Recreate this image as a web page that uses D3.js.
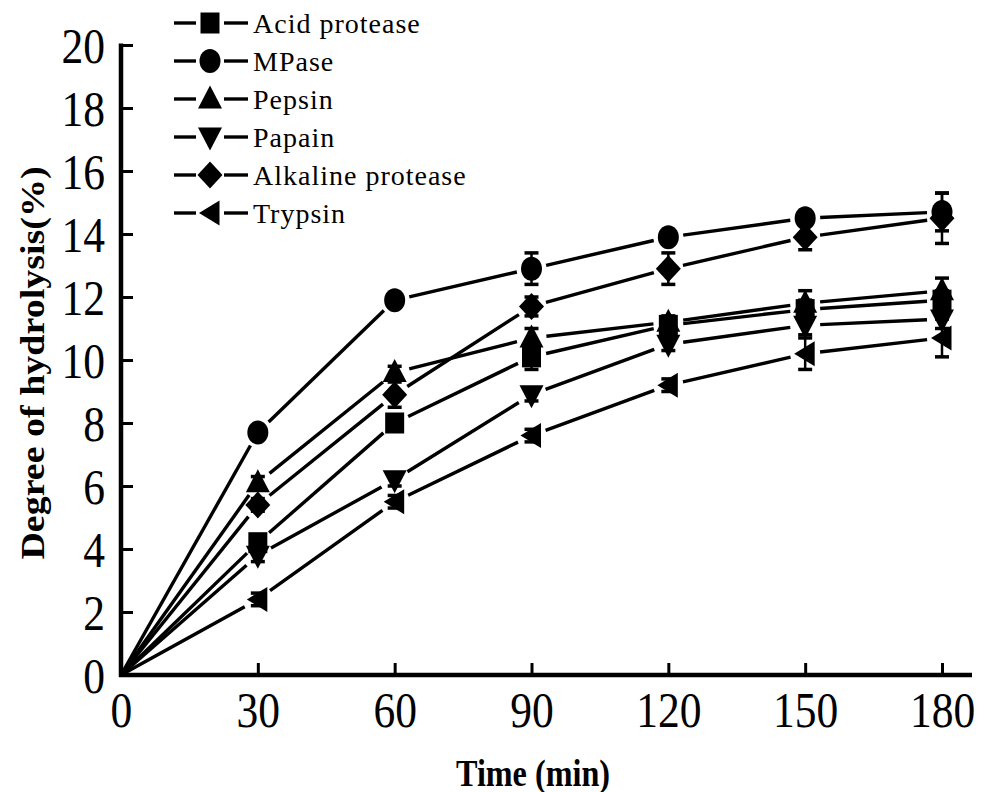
<!DOCTYPE html>
<html>
<head>
<meta charset="utf-8">
<script src="https://cdn.jsdelivr.net/npm/d3@7"></script>
<style>
  body { margin: 0; background: #fff; }
  svg { display: block; }
</style>
</head>
<body>
<svg id="chart"></svg>
<script>
// Time points (min)
const times = [0, 30, 60, 90, 120, 150, 180];

// Degree of hydrolysis (%) per enzyme
const acidProtease = [0, 4.2, 8.0, 10.1, 11.1, 11.6, 11.9];
const mpase = [0, 7.7, 11.9, 12.9, 13.9, 14.5, 14.7];
const pepsin = [0, 6.1, 9.6, 10.7, 11.2, 11.8, 12.2];
const papain = [0, 3.8, 6.2, 8.9, 10.5, 11.1, 11.3];
const alkalineProtease = [0, 5.4, 8.9, 11.7, 12.9, 13.9, 14.5];
const trypsin = [0, 2.4, 5.5, 7.6, 9.2, 10.2, 10.7];

// Error bars (SD)
const acidErr = [0, 0.2, 0.2, 0.4, 0.2, 0.3, 0.3];
const mpaseErr = [0, 0.2, 0.2, 0.5, 0.2, 0.2, 0.6];
const pepsinErr = [0, 0.2, 0.2, 0.3, 0.2, 0.4, 0.4];
const papainErr = [0, 0.2, 0.2, 0.2, 0.2, 0.3, 0.3];
const alkalineErr = [0, 0.2, 0.4, 0.3, 0.5, 0.4, 0.8];
const trypsinErr = [0, 0.2, 0.2, 0.2, 0.2, 0.5, 0.6];

const seriesNames = ['Acid protease', 'MPase', 'Pepsin', 'Papain', 'Alkaline protease', 'Trypsin'];
const markerTypes = ['square', 'circle', 'triangleUp', 'triangleDown', 'diamond', 'triangleLeft'];

const xTicks = [0, 30, 60, 90, 120, 150, 180];
const yTicks = [0, 2, 4, 6, 8, 10, 12, 14, 16, 18, 20];

const series = [
    { name: seriesNames[0], values: acidProtease, err: acidErr, marker: markerTypes[0] },
    { name: seriesNames[1], values: mpase, err: mpaseErr, marker: markerTypes[1] },
    { name: seriesNames[2], values: pepsin, err: pepsinErr, marker: markerTypes[2] },
    { name: seriesNames[3], values: papain, err: papainErr, marker: markerTypes[3] },
    { name: seriesNames[4], values: alkalineProtease, err: alkalineErr, marker: markerTypes[4] },
    { name: seriesNames[5], values: trypsin, err: trypsinErr, marker: markerTypes[5] }
];

const width = 990;
const height = 792;
const squeeze = 0.87; // text in the reference is a bit narrow

const svg = d3.select('#chart')
    .attr('width', width)
    .attr('height', height);

const x = d3.scaleLinear().domain([0, 180]).range([121, 942]);
const y = d3.scaleLinear().domain([0, 20]).range([675, 45]);

// Marker shapes
function markerPath(type) {
    switch (type) {
        case 'square': return 'M-9.5,-10.5H9.5V10.5H-9.5Z';
        case 'circle': return 'M-10.5,0A10.5,12 0 1,0 10.5,0A10.5,12 0 1,0 -10.5,0Z';
        case 'triangleUp': return 'M0,-13.5L12,9.5L-12,9.5Z';
        case 'triangleDown': return 'M0,13.5L12,-9.5L-12,-9.5Z';
        case 'diamond': return 'M0,-13.5L12.5,0L0,13.5L-12.5,0Z';
        case 'triangleLeft': return 'M-11,0L9.5,-12.5L9.5,12.5Z';
    }
}

const font = '"Liberation Serif", "Times New Roman", serif';

// Lines (segments stop short of markers)
const gap = 15;
series.forEach(s => {
    for (let i = 0; i < times.length - 1; i++) {
        const x1 = x(times[i]), y1 = y(s.values[i]);
        const x2 = x(times[i + 1]), y2 = y(s.values[i + 1]);
        const len = Math.hypot(x2 - x1, y2 - y1);
        const ux = (x2 - x1) / len, uy = (y2 - y1) / len;
        const g1 = i === 0 ? 0 : gap;
        svg.append('line')
            .attr('x1', x1 + ux * g1)
            .attr('y1', y1 + uy * g1)
            .attr('x2', x2 - ux * gap)
            .attr('y2', y2 - uy * gap)
            .attr('stroke', '#000')
            .attr('stroke-width', 3.4);
    }
});

// Error bars
series.forEach(s => {
    s.values.forEach((v, i) => {
        if (!s.err[i] || times[i] === 0) return;
        const cx = x(times[i]);
        const top = y(v + s.err[i]);
        const bot = y(v - s.err[i]);
        svg.append('line')
            .attr('x1', cx).attr('x2', cx)
            .attr('y1', top).attr('y2', bot)
            .attr('stroke', '#000').attr('stroke-width', 2.5);
        [top, bot].forEach(yy => {
            svg.append('line')
                .attr('x1', cx - 7).attr('x2', cx + 7)
                .attr('y1', yy).attr('y2', yy)
                .attr('stroke', '#000').attr('stroke-width', 3.5);
        });
    });
});

// Markers (not at t = 0)
series.forEach(s => {
    s.values.forEach((v, i) => {
        if (times[i] === 0) return;
        svg.append('path')
            .attr('d', markerPath(s.marker))
            .attr('transform', `translate(${x(times[i])},${y(v)})`)
            .attr('fill', '#000');
    });
});

// Axes
const xAxis = svg.append('g')
    .attr('transform', `translate(0,${y(0)})`)
    .call(d3.axisBottom(x).tickValues(xTicks).tickSizeInner(-12).tickSizeOuter(0));
xAxis.select('.domain').remove();
xAxis.selectAll('.tick line').attr('stroke-width', 3);
xAxis.selectAll('.tick text')
    .attr('y', 0).attr('dy', 0)
    .attr('transform', `translate(0,52) scale(${squeeze},1)`)
    .attr('font-family', font)
    .attr('font-size', 50)
    .attr('fill', '#000');

const yAxis = svg.append('g')
    .attr('transform', `translate(${x(0)},0)`)
    .call(d3.axisLeft(y).tickValues(yTicks).tickSizeInner(-12).tickSizeOuter(0));
yAxis.select('.domain').remove();
yAxis.selectAll('.tick line').attr('stroke-width', 3);
yAxis.selectAll('.tick text')
    .attr('x', 0).attr('dy', '0.34em')
    .attr('transform', `translate(-16,0) scale(${squeeze},1)`)
    .attr('font-family', font)
    .attr('font-size', 50)
    .attr('fill', '#000');

// Axis lines
svg.append('line')
    .attr('x1', x(0) - 2).attr('x2', 972)
    .attr('y1', y(0)).attr('y2', y(0))
    .attr('stroke', '#000').attr('stroke-width', 4.5);
svg.append('line')
    .attr('x1', x(0)).attr('x2', x(0))
    .attr('y1', y(20) - 1.5).attr('y2', y(0) + 2)
    .attr('stroke', '#000').attr('stroke-width', 4.5);

// Axis titles
svg.append('text')
    .attr('transform', `translate(533,786) scale(${squeeze},1)`)
    .attr('text-anchor', 'middle')
    .attr('font-family', font)
    .attr('font-weight', 'bold')
    .attr('font-size', 37)
    .text('Time (min)');

svg.append('text')
    .attr('transform', `translate(44,363) rotate(-90) scale(1,${squeeze})`)
    .attr('text-anchor', 'middle')
    .attr('font-family', font)
    .attr('font-weight', 'bold')
    .attr('font-size', 38)
    .text('Degree of hydrolysis(%)');

// Legend
const legend = svg.append('g');
series.forEach((s, i) => {
    const ly = 23 + i * 38;
    const row = legend.append('g').attr('transform', `translate(210,${ly})`);
    row.append('line').attr('x1', -36).attr('x2', -14).attr('y1', 0).attr('y2', 0)
        .attr('stroke', '#000').attr('stroke-width', 3.4);
    row.append('line').attr('x1', 14).attr('x2', 38).attr('y1', 0).attr('y2', 0)
        .attr('stroke', '#000').attr('stroke-width', 3.4);
    row.append('path').attr('d', markerPath(s.marker)).attr('fill', '#000');
    row.append('text')
        .attr('x', 43)
        .attr('dy', '0.35em')
        .attr('font-family', font)
        .attr('font-size', 28)
        .attr('letter-spacing', 1)
        .text(s.name);
});
</script>
</body>
</html>
